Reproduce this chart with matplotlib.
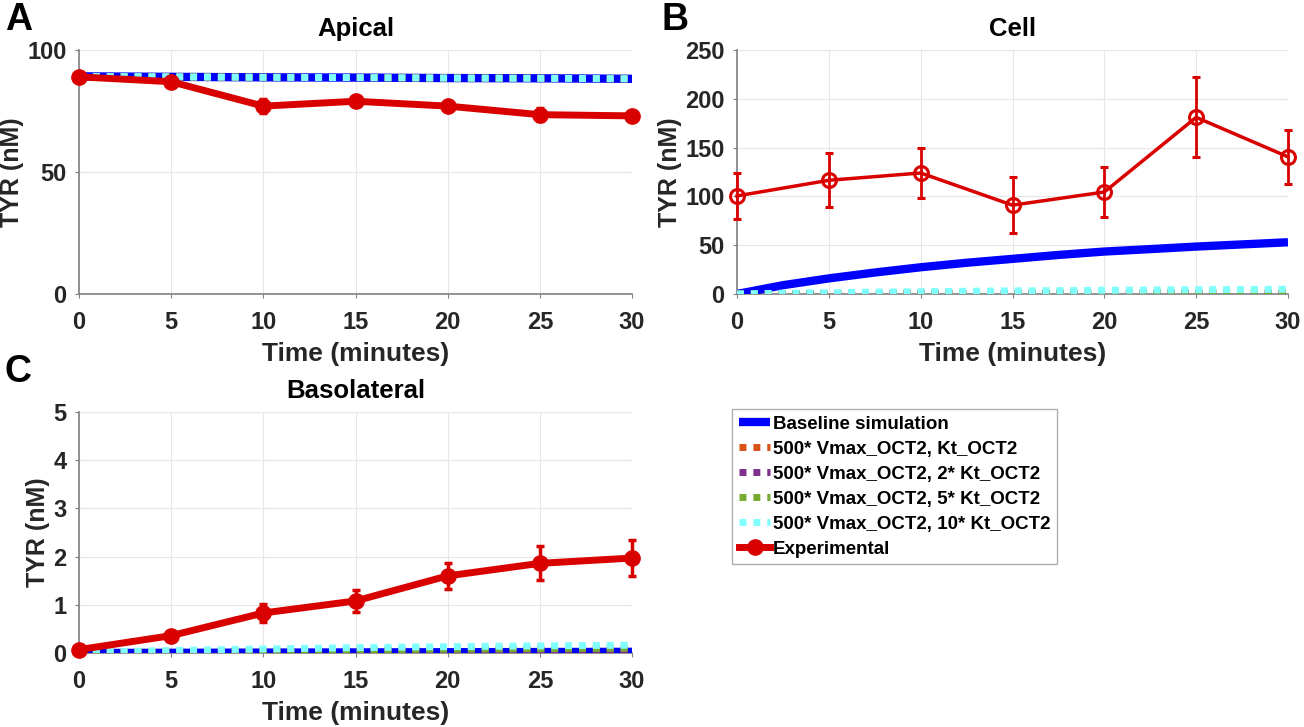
import matplotlib
matplotlib.use('Agg')
import matplotlib.pyplot as plt
from matplotlib.lines import Line2D

plt.rcParams['font.family'] = ['Liberation Sans', 'DejaVu Sans']
plt.rcParams['font.weight'] = 'bold'

# experimental time points and simulation time grid (minutes)
t_exp = [0, 5, 10, 15, 20, 25, 30]
t_sim = [0, 2.5, 5, 7.5, 10, 12.5, 15, 17.5, 20, 22.5, 25, 27.5, 30]

# Apical
apical_exp = [89, 87, 77, 79, 77, 73.5, 73]
apical_err = [1.2, 1.5, 3, 1.5, 1.5, 2.8, 1.5]
apical_base = [89.2, 89.1, 89.0, 88.9, 88.8, 88.75, 88.7, 88.6, 88.5, 88.45, 88.4, 88.3, 88.2]
apical_k1 = [89.2, 89.1, 89.0, 88.9, 88.8, 88.75, 88.7, 88.6, 88.5, 88.45, 88.4, 88.3, 88.2]
apical_k2 = [89.2, 89.1, 89.0, 88.9, 88.8, 88.75, 88.7, 88.6, 88.5, 88.45, 88.4, 88.3, 88.2]
apical_k5 = [89.2, 89.1, 89.0, 88.9, 88.8, 88.75, 88.7, 88.6, 88.5, 88.45, 88.4, 88.3, 88.2]
apical_k10 = [89.2, 89.1, 89.0, 88.9, 88.8, 88.75, 88.7, 88.6, 88.5, 88.45, 88.4, 88.3, 88.2]

# Cell
cell_exp = [100.5, 116.5, 124, 91, 104.5, 181, 140.5]
cell_err = [23.5, 27.5, 26, 29, 25.5, 41, 27.5]
cell_base = [0, 9, 16, 22, 27.4, 32, 36, 40, 43.5, 46, 48.6, 50.8, 53]
cell_k1 = [0, 0.1, 0.15, 0.2, 0.25, 0.3, 0.35, 0.4, 0.45, 0.5, 0.5, 0.55, 0.6]
cell_k2 = [0, 0.15, 0.25, 0.35, 0.45, 0.5, 0.6, 0.65, 0.7, 0.75, 0.8, 0.85, 0.9]
cell_k5 = [0, 0.3, 0.5, 0.7, 0.9, 1.0, 1.1, 1.2, 1.3, 1.4, 1.5, 1.55, 1.6]
cell_k10 = [0, 0.8, 1.4, 1.9, 2.4, 2.8, 3.2, 3.5, 3.8, 4.1, 4.4, 4.6, 4.9]

# Basolateral
baso_exp = [0.07, 0.36, 0.83, 1.08, 1.6, 1.86, 1.97]
baso_err = [0.03, 0.05, 0.18, 0.23, 0.27, 0.35, 0.38]
baso_base = [0, 0.002, 0.004, 0.006, 0.008, 0.01, 0.012, 0.014, 0.016, 0.018, 0.02, 0.022, 0.024]
baso_k1 = [0, 0.005, 0.01, 0.014, 0.018, 0.021, 0.024, 0.027, 0.03, 0.032, 0.034, 0.036, 0.038]
baso_k2 = [0, 0.008, 0.015, 0.021, 0.027, 0.032, 0.037, 0.041, 0.045, 0.048, 0.051, 0.054, 0.057]
baso_k5 = [0, 0.015, 0.028, 0.039, 0.049, 0.058, 0.066, 0.073, 0.08, 0.086, 0.091, 0.096, 0.1]
baso_k10 = [0, 0.03, 0.05, 0.068, 0.084, 0.098, 0.11, 0.121, 0.131, 0.14, 0.148, 0.155, 0.162]

labels = ['Baseline simulation',
          '500* Vmax_OCT2, Kt_OCT2',
          '500* Vmax_OCT2, 2* Kt_OCT2',
          '500* Vmax_OCT2, 5* Kt_OCT2',
          '500* Vmax_OCT2, 10* Kt_OCT2',
          'Experimental']

blue = '#0000FF'
red = '#D90000'
dot_colors = ['#D95319', '#7E2F8E', '#77AC30', '#80FFFF']
tick_color = '#262626'

fig = plt.figure(figsize=(13.04, 7.27), dpi=100)
axA = fig.add_axes([79/1304, 1-294/727, 553/1304, 244/727])
axB = fig.add_axes([737/1304, 1-294/727, 551/1304, 244/727])
axC = fig.add_axes([79/1304, 1-653/727, 553/1304, 241/727])


def draw_panel(ax, base, sims, exp, err, title, ylim, yticks, thin=False):
    handles = []
    h, = ax.plot(t_sim, base, color=blue, lw=6, solid_capstyle='butt', zorder=3)
    handles.append(h)
    for s, c in zip(sims, dot_colors):
        h, = ax.plot(t_sim, s, color=c, lw=5, linestyle=(0, (1, 1)), zorder=4)
        handles.append(h)
    if thin:
        h = ax.errorbar(t_exp, exp, yerr=err, color=red, lw=2.5, marker='o', ms=10,
                        mfc='none', mec=red, mew=2.2, elinewidth=2, capsize=3,
                        capthick=2, zorder=5)
    else:
        h = ax.errorbar(t_exp, exp, yerr=err, color=red, lw=5, marker='o', ms=11,
                        mfc=red, mec=red, elinewidth=2.5, capsize=3, capthick=2.5,
                        zorder=5)
    for art in h.lines[0], *h.lines[1], *h.lines[2]:
        art.set_clip_on(False)

    ax.set_xlim(0, 30)
    ax.set_ylim(*ylim)
    ax.set_xticks(t_exp)
    ax.set_yticks(yticks)
    ax.grid(True, color='#E6E6E6', lw=0.8)
    ax.set_axisbelow(True)
    for sp in ['top', 'right']:
        ax.spines[sp].set_visible(False)
    for sp in ['left', 'bottom']:
        ax.spines[sp].set_color('#808080')
        ax.spines[sp].set_linewidth(1.2)
    ax.tick_params(direction='out', length=3, color='#808080', labelsize=17,
                   labelcolor=tick_color, pad=6)
    ax.tick_params(axis='x', pad=9)
    for lab in ax.get_xticklabels() + ax.get_yticklabels():
        lab.set_fontweight('bold')
    ax.set_title(title, fontsize=18.5, fontweight='bold', pad=10)
    ax.set_xlabel('Time (minutes)', fontsize=19, fontweight='bold', color=tick_color, labelpad=6)
    ax.set_ylabel('TYR (nM)', fontsize=18, fontweight='bold', color=tick_color, labelpad=2)
    return handles


draw_panel(axA, apical_base, [apical_k1, apical_k2, apical_k5, apical_k10],
           apical_exp, apical_err, 'Apical', (0, 100), [0, 50, 100])
draw_panel(axB, cell_base, [cell_k1, cell_k2, cell_k5, cell_k10],
           cell_exp, cell_err, 'Cell', (0, 250), [0, 50, 100, 150, 200, 250], thin=True)
hC = draw_panel(axC, baso_base, [baso_k1, baso_k2, baso_k5, baso_k10],
                baso_exp, baso_err, 'Basolateral', (0, 5), [0, 1, 2, 3, 4, 5])
hC.append(Line2D([], [], color=red, lw=5, marker='o', ms=11, mfc=red, mec=red))

leg = fig.legend(hC, labels, loc='upper left', bbox_to_anchor=(732/1304, 1-409/727),
                 fontsize=13.5, frameon=True, fancybox=False, handlelength=1.7,
                 handletextpad=0.15, labelspacing=0.42, borderpad=0.35,
                 borderaxespad=0)
leg.get_frame().set_edgecolor('#999999')
leg.get_frame().set_linewidth(1)
for t in leg.get_texts():
    t.set_fontweight('bold')

fig.text(5/1304, 1-20/727, 'A', fontsize=27, fontweight='bold', va='center', ha='left')
fig.text(662/1304, 1-20/727, 'B', fontsize=27, fontweight='bold', va='center', ha='left')
fig.text(5/1304, 1-372/727, 'C', fontsize=27, fontweight='bold', va='center', ha='left')

fig.savefig('out.png', dpi=100)
